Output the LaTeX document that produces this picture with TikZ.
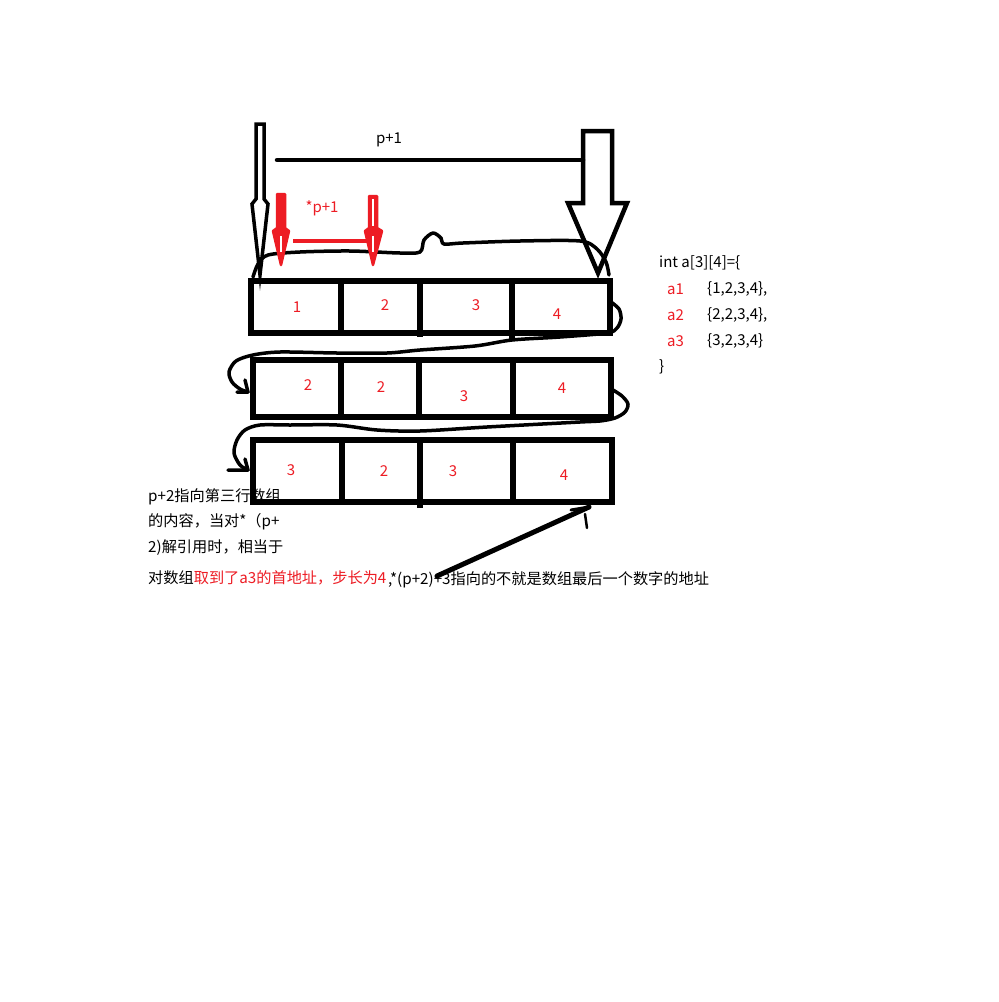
\documentclass[tikz,border=0pt]{standalone}
\usepackage{fontspec}
\setmainfont{Noto Sans CJK SC}
\definecolor{pred}{RGB}{237,28,36}
\begin{document}
\begin{tikzpicture}[x=1pt,y=-1pt,
  box/.style={line width=5.5pt},
  wave/.style={line width=3.5pt,line cap=round,line join=round},
  outl/.style={line width=3.5pt,line join=miter},
  redarr/.style={draw=pred,fill=pred,line width=2.5pt,line join=round},
  num/.style={text=pred,font=\fontsize{15}{15}\selectfont,inner sep=0pt},
  txt/.style={font=\fontsize{15.2}{15.2}\selectfont,inner sep=0pt,anchor=west},
  code/.style={font=\fontsize{15}{15}\selectfont,inner sep=0pt,anchor=west}]
\useasboundingbox (0,0) rectangle (999,1002);
\fill[white] (0,0) rectangle (999,1002);

% rows
\draw[box] (251,281) rectangle (610,333);
\draw[box] (341,281)--(341,333) (420,281)--(420,337) (512,281)--(512,341);
\draw[box] (253,360) rectangle (611,417);
\draw[box] (341,360)--(341,417) (419,360)--(419,417) (513,360)--(513,417);
\draw[box] (253,440) rectangle (612,502);
\draw[box] (342,440)--(342,502) (420,440)--(420,508) (513,440)--(513,502);

% numbers
\node[num] (n11) at (297,307) {1};
\node[num] (n12) at (385,305) {2};
\node[num] (n13) at (476,305) {3};
\node[num] (n14) at (557,314) {4};
\node[num] (n21) at (308,385) {2};
\node[num] (n22) at (381,387) {2};
\node[num] (n23) at (464,396) {3};
\node[num] (n24) at (562,388) {4};
\node[num] (n31) at (291,470) {3};
\node[num] (n32) at (384,471) {2};
\node[num] (n33) at (453,471) {3};
\node[num] (n34) at (564,475) {4};

% top wavy line
\draw[wave] plot[smooth,tension=0.5] coordinates {(253,277) (258,264) (268,255) (300,252) (350,251) (400,253) (420,252) (424,240) (433,233) (441,238) (444,244) (463,243) (520,241) (580,241) (597,249) (606,262) (609,275)};

% row1 -> row2 connector
\coordinate (c1) at (248,392);
\draw[wave] plot[smooth,tension=0.5] coordinates {(611,302) (619,309) (621,319) (617,328) (607,333) (560,337) (512,340) (475,346) (420,350) (387,353) (337,353) (280,352) (253,355) (236,361) (229,372) (232,382) (240,389) (c1)};
\draw[wave] (237,392)--(c1) (245,380)--(c1);

% row2 -> row3 connector
\coordinate (c2) at (248,470);
\draw[wave] plot[smooth,tension=0.5] coordinates {(613,390) (622,396) (628,404) (625,412) (615,418) (600,421) (580,422) (487,427) (420,431) (377,430) (337,425) (290,425) (260,425) (245,430) (237,440) (234,453) (240,465) (c2)};
\draw[wave] (228,470)--(c2) (245,459)--(c2);

% left black hollow arrow
\draw[outl] (256,124)--(264,124)--(264,199)--(268,204)--(260,275)--(252,204)--(256,199)--cycle;

% big right hollow arrow
\draw[line width=4.5pt,line join=miter] (583,131)--(612,131)--(612,203)--(627,203)--(598,273)--(568,203)--(583,203)--cycle;

% p+1 line
\coordinate (pl) at (277,160);
\coordinate (pr) at (583,160);
\draw[line width=4.5pt,line cap=round] (pl)--(pr);
\node[font=\fontsize{15}{15}\selectfont,inner sep=0pt] (p1) at (389,140) {p+1};

% red arrows
\draw[redarr] (277,194)--(285,194)--(285,228)--(289,231)--(281,265)--(273,231)--(277,228)--cycle;
\draw[white,line width=1.3pt] (281,236)--(281,252);
\draw[redarr] (369,196)--(377,196)--(377,228)--(382,231)--(373,265)--(365,231)--(369,228)--cycle;
\draw[white,line width=1.3pt] (373,199)--(373,226) (373,236)--(373,252);
\coordinate (rl) at (293,241);
\coordinate (rr) at (369,241);
\draw[pred,line width=4.5pt] (rl)--(rr);
\node[text=pred,font=\fontsize{15}{15}\selectfont,inner sep=0pt] (sp1) at (322,208) {*p+1};

% right code text
\node[code] (t0) at (659,263) {int a[3][4]=\{};
\node[code,text=pred] (a1) at (667,289) {a1};
\node[code] (v1) at (707,289) {\{1,2,3,4\},};
\node[code,text=pred] (a2) at (667,315) {a2};
\node[code] (v2) at (707,315) {\{2,2,3,4\},};
\node[code,text=pred] (a3) at (667,341) {a3};
\node[code] (v3) at (707,341) {\{3,2,3,4\}};
\node[code] (t4) at (659,367) {\}};

% left explanation text
\node[txt] (l1) at (148,497) {p+2指向第三行数组};
\node[txt] (l2) at (148,522) {的内容，当对*（p+};
\node[txt] (l3) at (148,548) {2)解引用时，相当于};
\node[txt] (l4) at (148,578) {对数组\textcolor{pred}{取到了a3的首地址，步长为4}};
\node[txt] (l5) at (388,580) {,*(p+2)+3指向的不就是数组最后一个数字的地址};

% diagonal arrow
\coordinate (dA) at (437,576);
\coordinate (dB) at (589,507);
\draw[line width=5pt,line cap=round] (dA)--(dB);
\draw[line width=3pt,line cap=round] (571,510)--(dB);
\draw[line width=2.5pt,line cap=round] (585,514)--(587,528);
\end{tikzpicture}
\end{document}
